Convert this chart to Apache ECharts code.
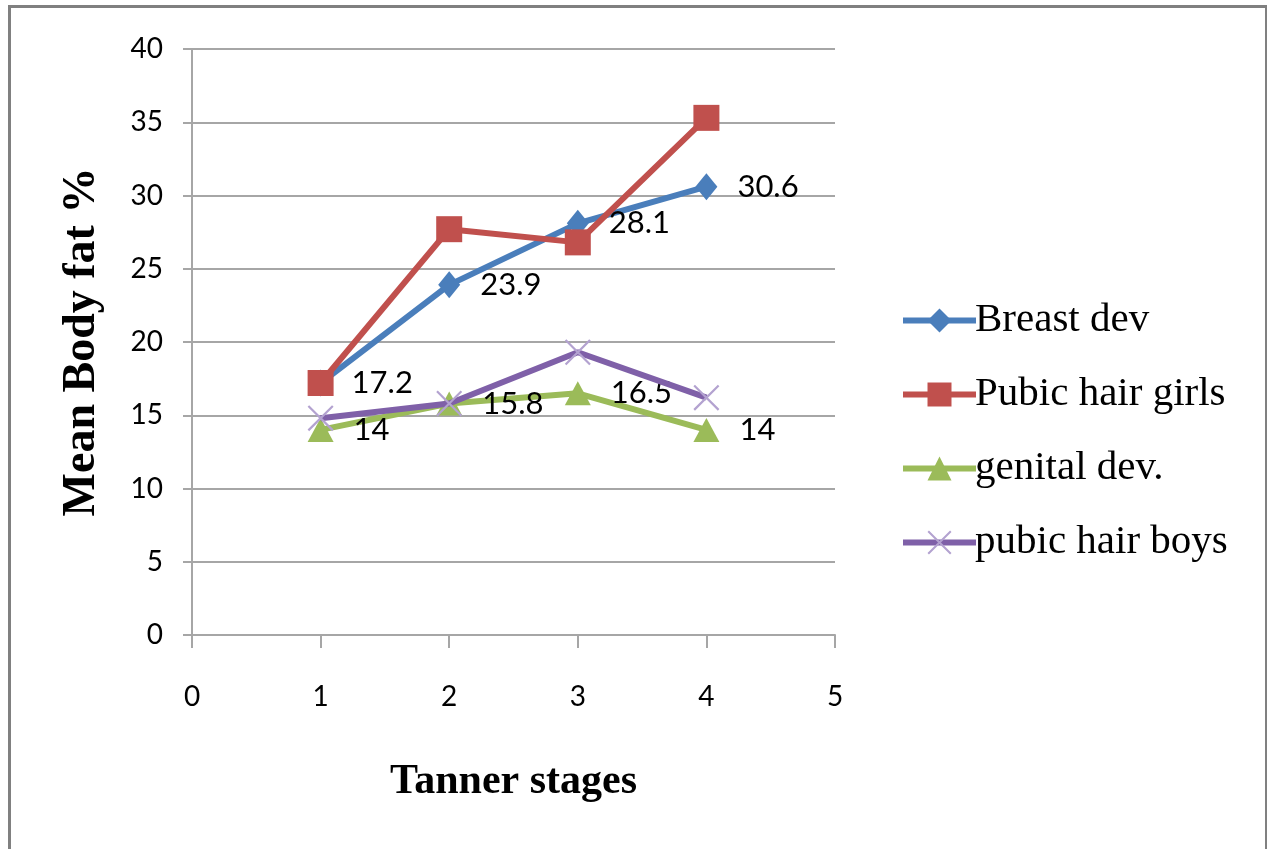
<!DOCTYPE html>
<html>
<head>
<meta charset="utf-8">
<script src="https://cdn.jsdelivr.net/npm/echarts@6/dist/echarts.min.js"></script>
<style>
html,body{margin:0;padding:0;background:#fff;}
#chart{width:1267px;height:849px;}
</style>
</head>
<body>
<div id="chart"></div>
<script>
const stages = [1, 2, 3, 4];
const seriesNames = ['Breast dev', 'Pubic hair girls', 'genital dev.', 'pubic hair boys'];
const breastDev = [17.2, 23.9, 28.1, 30.6];
const pubicHairGirls = [17.2, 27.7, 26.8, 35.3];
const genitalDev = [14, 15.8, 16.5, 14];
const pubicHairBoys = [14.8, 15.8, 19.3, 16.2];
const xTicks = [0, 1, 2, 3, 4, 5];
const yTicks = [0, 5, 10, 15, 20, 25, 30, 35, 40];

const pair = arr => stages.map((s, i) => [s, arr[i]]);
const crossPath = 'path://M0,1.2L1.2,0L20,18.8L18.8,20Z M18.8,0L20,1.2L1.2,20L0,18.8Z';
const labelFont = {fontFamily: 'Lato, "Open Sans", sans-serif', fontSize: 31, color: '#000'};
const serif = '"Liberation Serif", "Times New Roman", serif';

const chart = echarts.init(document.getElementById('chart'), null, {renderer: 'canvas'});
chart.setOption({
  backgroundColor: '#fff',
  animation: false,
  graphic: [{
    type: 'rect', left: 7, top: 4, z: 100,
    shape: {x: 0, y: 0, width: 1257, height: 900},
    style: {fill: 'none', stroke: '#808080', lineWidth: 3}
  }],
  grid: {left: 192, right: 432, top: 49, bottom: 214, containLabel: false},
  legend: {
    orient: 'vertical', left: 895, top: 295,
    itemWidth: 73, itemHeight: 30, itemGap: 33,
    lineStyle: {width: 6},
    textStyle: {fontFamily: serif, fontSize: 41, color: '#000', padding: [0, 0, 0, -6]},
    data: seriesNames
  },
  xAxis: {
    type: 'value', min: 0, max: 5, interval: 1,
    name: 'Tanner stages', nameLocation: 'middle', nameGap: 126,
    nameTextStyle: {fontFamily: serif, fontWeight: 'bold', fontSize: 42, color: '#000'},
    axisLine: {show: true, lineStyle: {color: '#a6a6a6', width: 2}},
    axisTick: {show: true, length: 13, lineStyle: {color: '#a6a6a6', width: 2}},
    axisLabel: {margin: 48, ...labelFont, fontSize: 28, formatter: v => xTicks.includes(v) ? String(v) : ''},
    splitLine: {show: false}
  },
  yAxis: {
    type: 'value', min: 0, max: 40, interval: 5,
    name: 'Mean Body fat %', nameLocation: 'middle', nameGap: 87, nameRotate: 90,
    nameTextStyle: {fontFamily: serif, fontWeight: 'bold', fontSize: 46, color: '#000'},
    axisLine: {show: true, lineStyle: {color: '#a6a6a6', width: 2}},
    axisTick: {show: true, length: 9, lineStyle: {color: '#a6a6a6', width: 2}},
    axisLabel: {margin: 29, ...labelFont, fontSize: 28, formatter: v => yTicks.includes(v) ? String(v) : ''},
    splitLine: {show: true, lineStyle: {color: '#a6a6a6', width: 2}}
  },
  series: [
    {
      name: seriesNames[0], type: 'line', data: pair(breastDev), z: 3,
      symbol: 'diamond', symbolSize: [22, 27],
      lineStyle: {color: '#4a7ebb', width: 6},
      itemStyle: {color: '#4a7ebb'},
      label: {show: true, position: 'right', distance: 20, ...labelFont, formatter: p => String(p.value[1])}
    },
    {
      name: seriesNames[1], type: 'line', data: pair(pubicHairGirls), z: 4,
      symbol: 'rect', symbolSize: 26,
      lineStyle: {color: '#c0504d', width: 6},
      itemStyle: {color: '#c0504d'}
    },
    {
      name: seriesNames[2], type: 'line', data: pair(genitalDev), z: 2,
      symbol: 'triangle', symbolSize: [26, 24],
      lineStyle: {color: '#9bbb59', width: 6},
      itemStyle: {color: '#9bbb59'},
      label: {show: true, position: 'right', distance: 20, ...labelFont, formatter: p => String(p.value[1])}
    },
    {
      name: seriesNames[3], type: 'line', data: pair(pubicHairBoys), z: 3,
      symbol: crossPath, symbolSize: 26,
      lineStyle: {color: '#7f60a8', width: 6},
      itemStyle: {color: '#b3a2d0'}
    }
  ]
});
</script>
</body>
</html>
